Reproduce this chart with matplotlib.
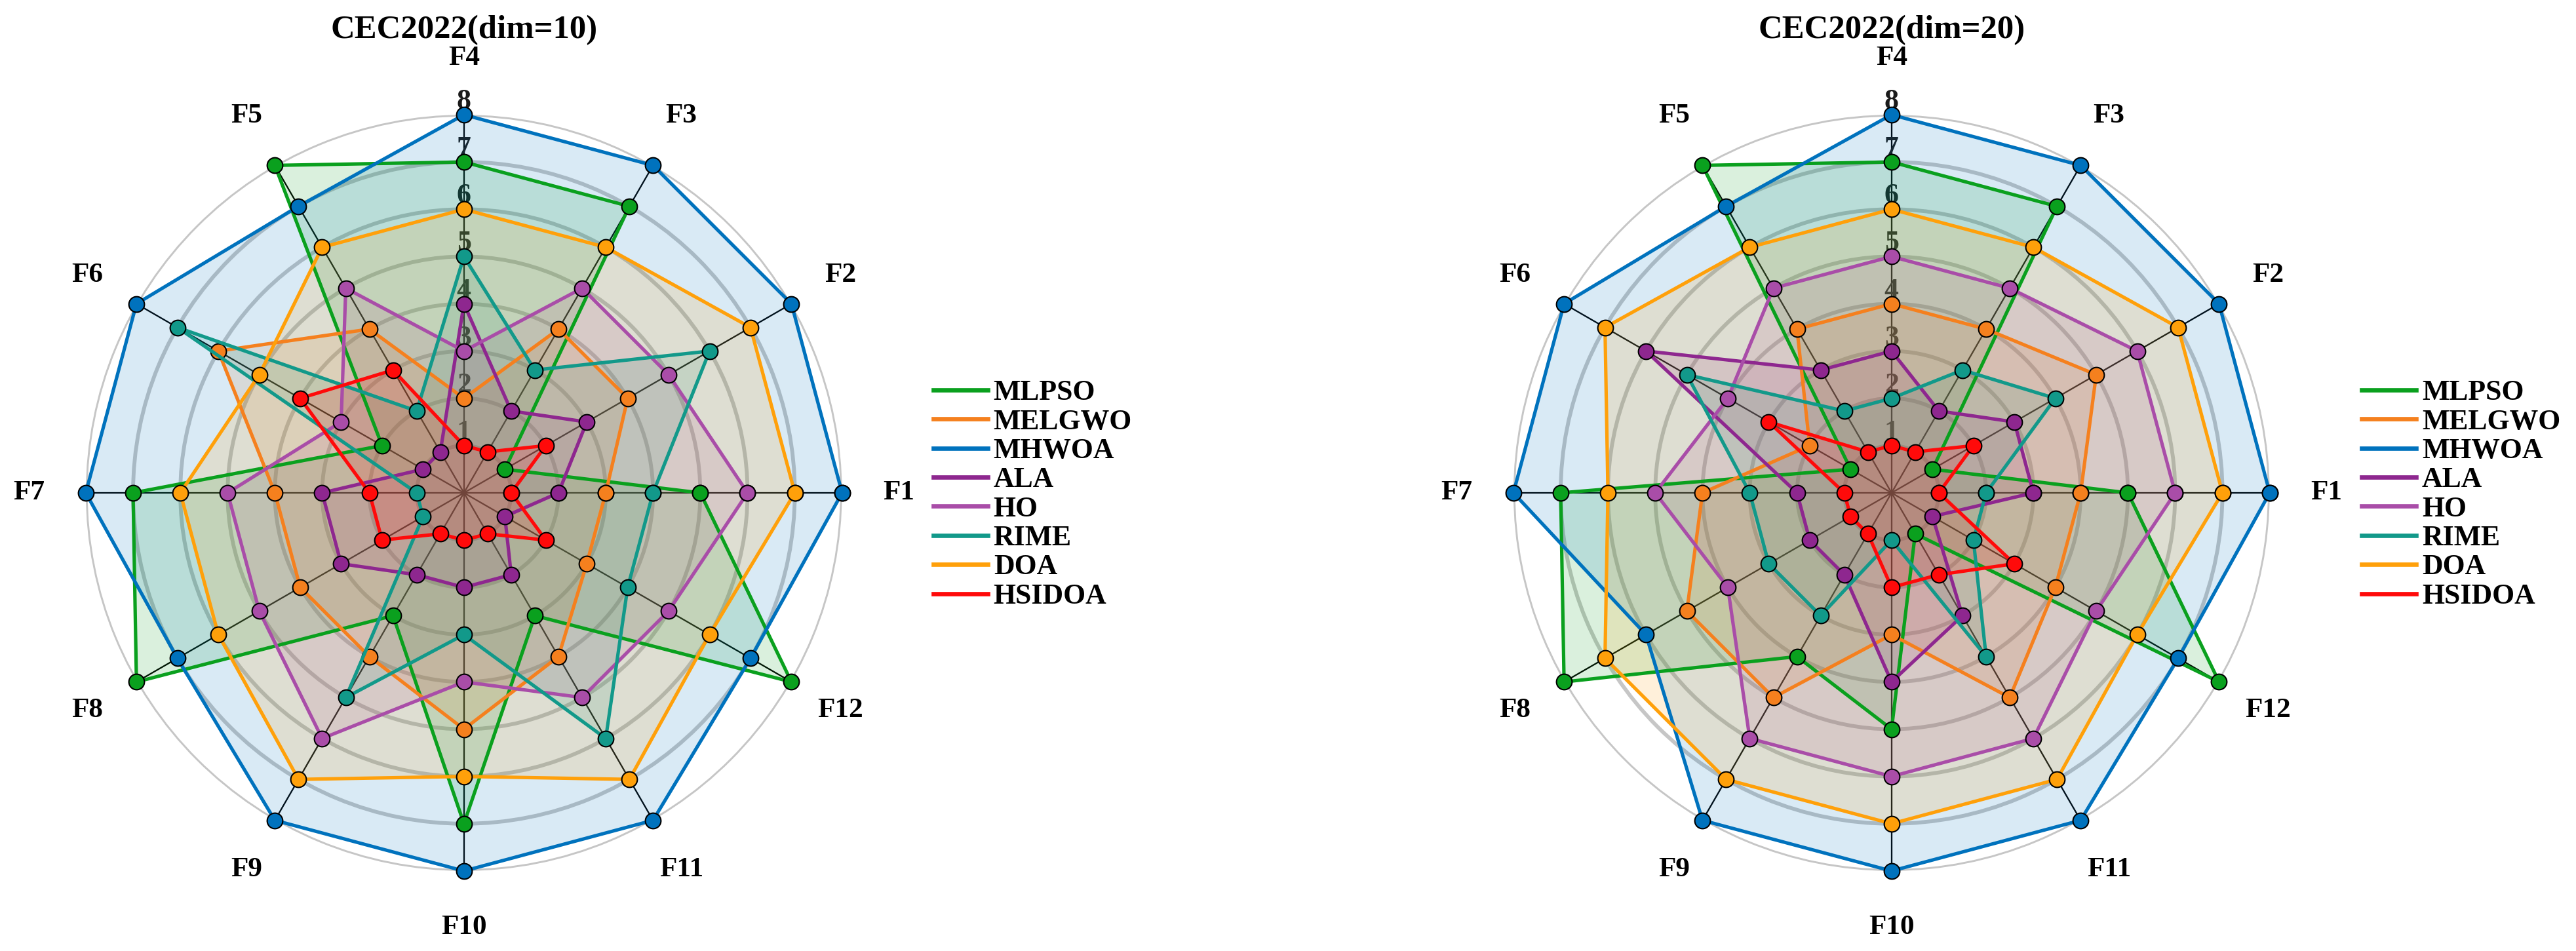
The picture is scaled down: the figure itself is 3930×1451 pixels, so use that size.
import matplotlib
matplotlib.use('Agg')
import matplotlib.pyplot as plt
import numpy as np

plt.rcParams['font.family'] = ['Liberation Serif', 'DejaVu Serif']
plt.rcParams['font.weight'] = 'bold'

funcs = ['F1', 'F2', 'F3', 'F4', 'F5', 'F6', 'F7', 'F8', 'F9', 'F10', 'F11', 'F12']
algos = ['MLPSO', 'MELGWO', 'MHWOA', 'ALA', 'HO', 'RIME', 'DOA', 'HSIDOA']
colors = ['#0AA01E', '#F5801E', '#0072BD', '#8E278F', '#A94DA8', '#12998A', '#FFA00A', '#FF0A0A']

# ranks per function F1..F12
rank_d10 = {
    'MLPSO':  [5, 1, 7, 7, 8, 2, 7, 8, 3, 7, 3, 8],
    'MELGWO': [3, 4, 4, 2, 4, 6, 4, 4, 4, 5, 4, 3],
    'MHWOA':  [8, 8, 8, 8, 7, 8, 8, 7, 8, 8, 8, 7],
    'ALA':    [2, 3, 2, 4, 1, 1, 3, 3, 2, 2, 2, 1],
    'HO':     [6, 5, 5, 3, 5, 3, 5, 5, 6, 4, 5, 5],
    'RIME':   [4, 6, 3, 5, 2, 7, 1, 1, 5, 3, 6, 4],
    'DOA':    [7, 7, 6, 6, 6, 5, 6, 6, 7, 6, 7, 6],
    'HSIDOA': [1, 2, 1, 1, 3, 4, 2, 2, 1, 1, 1, 2],
}
rank_d20 = {
    'MLPSO':  [5, 1, 7, 7, 8, 1, 7, 8, 4, 5, 1, 8],
    'MELGWO': [4, 5, 4, 4, 4, 2, 4, 5, 5, 3, 5, 4],
    'MHWOA':  [8, 8, 8, 8, 7, 8, 8, 6, 8, 8, 8, 7],
    'ALA':    [3, 3, 2, 3, 3, 6, 2, 2, 2, 4, 3, 1],
    'HO':     [6, 6, 5, 5, 5, 4, 5, 4, 6, 6, 6, 5],
    'RIME':   [2, 4, 3, 2, 2, 5, 3, 3, 3, 1, 4, 2],
    'DOA':    [7, 7, 6, 6, 6, 7, 6, 7, 7, 7, 7, 6],
    'HSIDOA': [1, 2, 1, 1, 1, 3, 1, 1, 1, 2, 2, 3],
}
rticks = [1, 2, 3, 4, 5, 6, 7, 8]


def radar(ax, ranks, title):
    theta = np.arange(len(funcs)) * 2 * np.pi / len(funcs)
    th = np.append(theta, theta[0])
    for name, col in zip(algos, colors):
        v = np.array(ranks[name] + ranks[name][:1])
        ax.fill(th, v, color=col, alpha=0.15, zorder=1, lw=0)
        ax.plot(th, v, color=col, lw=1.25, marker='o', ms=5.7, mfc=col,
                mec='black', mew=0.5, label=name, clip_on=False, zorder=3)
    ax.set_ylim(0, 8)
    ax.set_axisbelow(True)
    ax.set_yticks(rticks)
    ax.set_yticklabels([])
    ax.yaxis.grid(True, color='#c6c6c6', lw=1.4)
    ax.set_xticks(theta)
    ax.set_xticklabels([])
    ax.xaxis.grid(True, color='black', lw=0.55)
    ax.spines['polar'].set_visible(False)
    for t, f in zip(theta, funcs):
        ax.text(t, 9.2, f, ha='center', va='center', fontsize=10.4,
                fontweight='bold', clip_on=False)
    for r in rticks:
        ax.text(np.pi / 2, r, str(r), ha='center', va='bottom', fontsize=10.5,
                fontweight='bold', color='#1a1a1a', zorder=0.6)
    ax.text(0.5, 1.112, title, transform=ax.transAxes, ha='center', va='center',
            fontsize=12.2, fontweight='bold')


fig = plt.figure(figsize=(13.1, 4.8367), dpi=300)
ax1 = fig.add_axes([0.0333, 0.0841, 0.2936, 0.7953], projection='polar')
ax2 = fig.add_axes([0.5875, 0.0841, 0.2936, 0.7953], projection='polar')
radar(ax1, rank_d10, 'CEC2022(dim=10)')
radar(ax2, rank_d20, 'CEC2022(dim=20)')

for ax, x in [(ax1, 0.3623), (ax2, 0.9168)]:
    h, l = ax.get_legend_handles_labels()
    h = [plt.Line2D([], [], color=c, lw=1.6) for c in colors]
    fig.legend(h, l, loc='center left', bbox_to_anchor=(x, 0.48), frameon=False,
               handlelength=1.9, handletextpad=0.2,
               labelspacing=0.1, borderpad=0, borderaxespad=0,
               prop={'weight': 'bold', 'size': 10.5})

fig.savefig('out.png', dpi=300, facecolor='white')
